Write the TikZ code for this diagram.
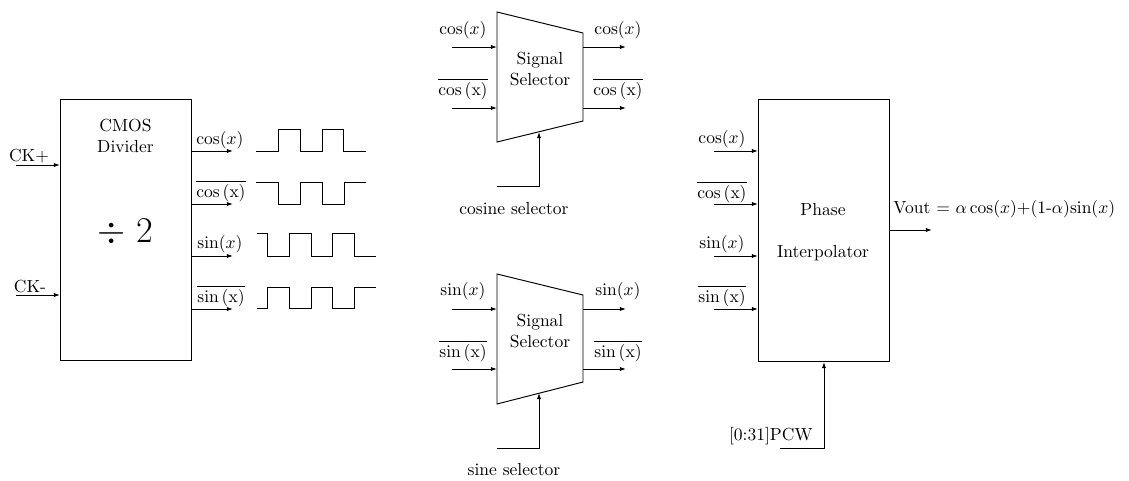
\documentclass[tikz,border=0pt]{standalone}
\usetikzlibrary{arrows.meta}
\begin{document}
\begin{tikzpicture}[x=0.5714pt,y=-0.5714pt,
  line width=0.55pt,
  sig/.style={-{Latex[length=3.5pt,width=2.4pt]}},
  wire/.style={line width=0.55pt},
  lbl/.style={anchor=base,inner sep=0pt},
  txt/.style={align=center,inner sep=0pt}]
\useasboundingbox (0,0) rectangle (1129,480);

% ---------------- CMOS divider ----------------
\node[draw,minimum width=131*0.5714pt,minimum height=261*0.5714pt,inner sep=0pt,anchor=north west] (div) at (60,99) {};
\node[txt] (divname) at (125.5,136) {CMOS\\Divider};
\node[txt,anchor=base] (divtwo) at (125.5,242) {\huge $\div$ 2};

\coordinate (ckp) at (16,165);
\coordinate (ckm) at (16,295);
\draw[sig] (ckp) -- (ckp -| div.west);
\draw[sig] (ckm) -- (ckm -| div.west);
\node[lbl] (ckplbl) at (29,161) {CK+};
\node[lbl] (ckmlbl) at (30,292) {CK-};

\coordinate (dcos)  at (233,151);
\coordinate (dcosb) at (233,204);
\coordinate (dsin)  at (233,256);
\coordinate (dsinb) at (233,309);
\draw[sig] (dcos  -| div.east) -- (dcos);
\draw[sig] (dcosb -| div.east) -- (dcosb);
\draw[sig] (dsin  -| div.east) -- (dsin);
\draw[sig] (dsinb -| div.east) -- (dsinb);
\node[lbl] (dcoslbl)  at (220,144) {$\cos(x)$};
\node[lbl] (dcosblbl) at (221,197) {$\overline{\cos\mathrm{(x)}}$};
\node[lbl] (dsinlbl)  at (220,248) {$\sin(x)$};
\node[lbl] (dsinblbl) at (221,302) {$\overline{\sin\mathrm{(x)}}$};

% output waveforms
\draw[wire] (256,151) -- (278,151) -- (278,129) -- (300,129) -- (300,151) -- (322,151)
  -- (322,129) -- (343,129) -- (343,151) -- (366,151);
\draw[wire] (256,182) -- (278,182) -- (278,204) -- (300,204) -- (300,182) -- (322,182)
  -- (322,204) -- (344,204) -- (344,182) -- (366,182);
\draw[wire] (257,233) -- (267,233) -- (267,256) -- (289,256) -- (289,233) -- (311,233)
  -- (311,256) -- (332,256) -- (332,233) -- (354,233) -- (354,256) -- (376,256);
\draw[wire] (257,308) -- (267,308) -- (267,287) -- (289,287) -- (289,308) -- (311,308)
  -- (311,287) -- (332,287) -- (332,308) -- (354,308) -- (354,287) -- (376,287);

% ---------------- cosine selector ----------------
\draw (497,12) -- (583,33) -- (583,121) -- (497,142) -- cycle;
\node[txt] (csel) at (540,69) {Signal\\Selector};
\coordinate (ci1) at (452,47);
\coordinate (ci2) at (452,108);
\coordinate (co1) at (626,47);
\coordinate (co2) at (626,108);
\draw[sig] (ci1) -- (497,47);
\draw[sig] (ci2) -- (497,108);
\draw[sig] (583,47) -- (co1);
\draw[sig] (583,108) -- (co2);
\node[lbl] (ci1lbl) at (463,34) {$\cos(x)$};
\node[lbl] (ci2lbl) at (463,95) {$\overline{\cos\mathrm{(x)}}$};
\node[lbl] (co1lbl) at (618,34) {$\cos(x)$};
\node[lbl] (co2lbl) at (618,95) {$\overline{\cos\mathrm{(x)}}$};
\coordinate (cs0) at (497,186);
\coordinate (cs1) at (539,132);
\draw[sig] (cs0) -| (cs1);
\node[lbl] (cslbl) at (514,214) {cosine selector};

% ---------------- sine selector ----------------
\draw (497,274) -- (583,295) -- (583,382) -- (497,404) -- cycle;
\node[txt] (ssel) at (540,331) {Signal\\Selector};
\coordinate (si1) at (452,309);
\coordinate (si2) at (452,369);
\coordinate (so1) at (626,309);
\coordinate (so2) at (626,369);
\draw[sig] (si1) -- (497,309);
\draw[sig] (si2) -- (497,369);
\draw[sig] (583,309) -- (so1);
\draw[sig] (583,369) -- (so2);
\node[lbl] (si1lbl) at (463,295) {$\sin(x)$};
\node[lbl] (si2lbl) at (463,357) {$\overline{\sin\mathrm{(x)}}$};
\node[lbl] (so1lbl) at (618,295) {$\sin(x)$};
\node[lbl] (so2lbl) at (618,357) {$\overline{\sin\mathrm{(x)}}$};
\coordinate (ss0) at (497,448);
\coordinate (ss1) at (539,393);
\draw[sig] (ss0) -| (ss1);
\node[lbl] (sslbl) at (514,475) {sine selector};

% ---------------- phase interpolator ----------------
\node[draw,minimum width=131*0.5714pt,minimum height=262*0.5714pt,inner sep=0pt,anchor=north west] (pi) at (758,99) {};
\node[lbl] (piname1) at (823,215) {Phase};
\node[lbl] (piname2) at (823,257) {Interpolator};
\coordinate (pi1) at (714,151);
\coordinate (pi2) at (714,204);
\coordinate (pi3) at (714,256);
\coordinate (pi4) at (714,309);
\draw[sig] (pi1) -- (pi1 -| pi.west);
\draw[sig] (pi2) -- (pi2 -| pi.west);
\draw[sig] (pi3) -- (pi3 -| pi.west);
\draw[sig] (pi4) -- (pi4 -| pi.west);
\node[lbl] (pi1lbl) at (722,143) {$\cos(x)$};
\node[lbl] (pi2lbl) at (722,198) {$\overline{\cos\mathrm{(x)}}$};
\node[lbl] (pi3lbl) at (722,248) {$\sin(x)$};
\node[lbl] (pi4lbl) at (722,302) {$\overline{\sin\mathrm{(x)}}$};
\coordinate (vout) at (932,230);
\draw[sig] (vout -| pi.east) -- (vout);
\node[lbl,anchor=base west] (voutlbl) at (893,213) {Vout $=$ $\alpha\cos(x)$+(1-$\alpha$)$\sin(x)$};
\coordinate (pcw) at (780,448);
\draw[sig] (pcw) -| (pi.south);
\node[lbl,anchor=base east] (pcwlbl) at (813,440) {[0:31]PCW};
\end{tikzpicture}
\end{document}
